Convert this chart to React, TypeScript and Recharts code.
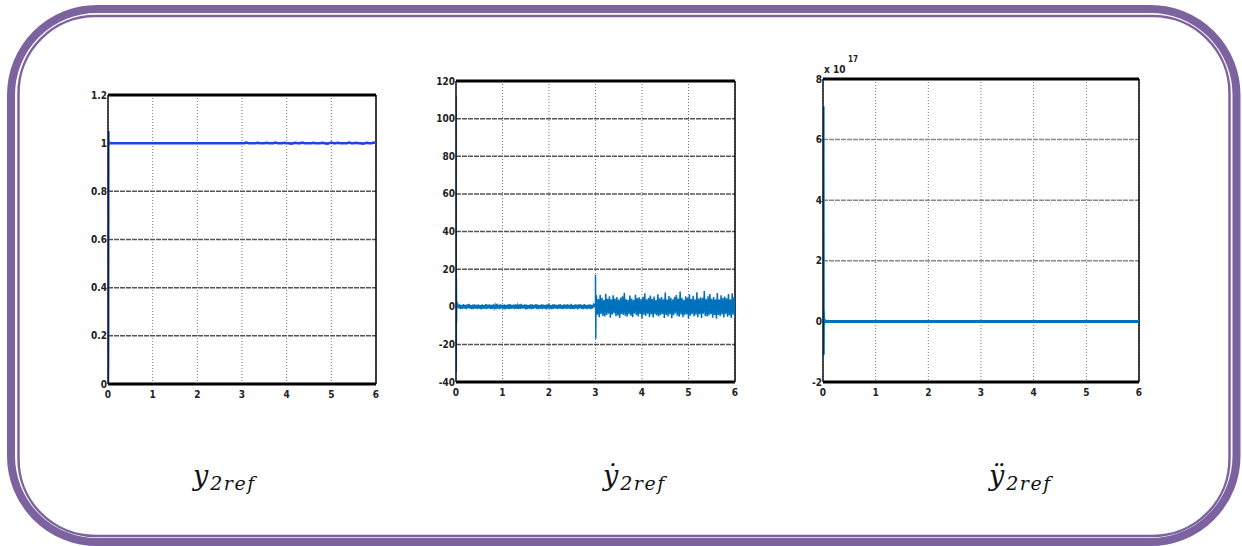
import React from 'react';
import { LineChart, Line, XAxis, YAxis, CartesianGrid, ReferenceLine } from 'recharts';

// ---- time axis (s) ----
const timeTicks = [0, 1, 2, 3, 4, 5, 6];

// ---- y2ref ----
const y2Ticks = [0, 0.2, 0.4, 0.6, 0.8, 1, 1.2];
const y2StartT = [0, 0.004, 0.008, 0.012, 0.02, 0.04, 3.0];
const y2StartV = [0, 0.15, 1.05, 0.99, 1.005, 1.0, 1.0];
const y2NoiseFrom = 3.05;
const y2NoiseDt = 0.05;
const y2Noise = [
    1.0, 1.003, 1.0, 1.0, 1.0, 1.0, 1.002, 1.0, 1.0, 1.0,
    1.002, 1.0, 1.0, 1.0, 1.003, 1.0, 1.0, 1.0, 1.002, 1.0,
    1.0, 0.998, 1.0, 1.002, 1.0, 1.0, 1.003, 1.0, 1.0, 1.0,
    1.0, 1.002, 1.0, 1.0, 1.0, 1.002, 1.0, 0.998, 1.0, 1.003,
    1.0, 1.0, 1.002, 1.0, 1.0, 1.0, 1.0, 1.003, 1.0, 1.0,
    1.002, 1.0, 1.0, 0.998, 1.0, 1.002, 1.0, 1.0, 1.003, 1.0,
];

// ---- dy2ref ----
const dyTicks = [-40, -20, 0, 20, 40, 60, 80, 100, 120];
const dyStartT = [0, 0.003, 0.006, 0.009, 0.012, 0.016, 0.02];
const dyStartV = [0, 112, -35, 15, -8, 3, 0];
const dyQuietFrom = 0.04;
const dyQuietDt = 0.02;
const dyQuiet = [
    1.1, -0.9, 1.3, -1.2, 0.8, -1.1, 1.4, -0.9, 1.0, -1.3,
    1.2, -0.8, 1.5, -1.0, 0.9, -1.2, 1.1, -1.3, 1.3, -0.9,
    1.0, -1.2, 1.2, -1.0, 0.8, -1.4, 1.3, -1.1, 0.9, -1.0,
    1.4, -1.2, 1.1, -0.9, 1.2, -1.3, 1.0, -1.1, 1.3, -0.8,
    0.9, -1.2, 1.5, -1.0, 1.1, -1.3, 1.2, -0.9, 1.0, -1.1,
    1.3, -1.4, 0.9, -1.0, 1.2, -1.2, 1.4, -1.1, 1.0, -0.9,
    1.1, -1.3, 1.2, -1.0, 0.8, -1.2, 1.3, -1.1, 1.5, -1.0,
    1.0, -0.9, 1.2, -1.4, 1.1, -1.2, 0.9, -1.0, 1.3, -1.3,
    1.2, -1.1, 1.0, -0.8, 1.4, -1.2, 1.1, -1.3, 0.9, -1.0,
    1.3, -1.2, 1.1, -0.9, 1.0, -1.4, 1.2, -1.0, 1.5, -1.1,
    0.9, -1.3, 1.2, -1.1, 1.3, -0.9, 1.0, -1.2, 1.1, -1.0,
    1.4, -1.1, 0.8, -1.3, 1.2, -1.0, 1.1, -1.2, 1.3, -0.9,
    1.0, -1.2, 1.5, -1.1, 0.9, -1.3, 1.2, -1.0, 1.1, -1.4,
    1.2, -0.9, 1.3, -1.1, 1.0, -1.2, 1.4, -1.0, 0.9, -1.3,
    1.1, -1.0, 1.2, -1.3, 1.0, -0.9, 1.3,
];
const dyKickT = [2.999, 3.0, 3.006, 3.012];
const dyKickV = [0, 17, -17, 6];
const dyNoisyFrom = 3.02;
const dyNoisyDt = 0.02;
const dyNoisy = [
    5.8, -4.2, 4.1, -5.6, 6.3, -3.8, 4.7, -4.9, 3.6, -5.2,
    6.9, -4.4, 4.2, -3.7, 5.5, -5.8, 3.9, -4.1, 6.1, -3.5,
    4.4, -5.0, 5.2, -4.6, 3.8, -6.0, 4.9, -3.9, 5.6, -4.3,
    7.4, -4.8, 4.0, -5.3, 3.7, -4.0, 5.9, -4.7, 4.3, -5.5,
    3.5, -3.6, 6.4, -4.5, 4.6, -5.1, 5.0, -3.8, 4.1, -6.2,
    5.3, -4.2, 7.1, -4.9, 3.9, -3.7, 4.8, -5.4, 6.0, -4.1,
    4.2, -5.7, 5.4, -3.9, 3.6, -4.6, 6.6, -5.0, 4.5, -4.4,
    5.1, -3.8, 4.0, -5.9, 7.6, -4.3, 3.8, -5.2, 5.7, -4.0,
    4.7, -6.1, 3.9, -4.5, 5.3, -3.6, 6.2, -4.8, 4.4, -5.3,
    8.1, -4.1, 4.6, -5.6, 3.7, -4.4, 5.5, -3.9, 4.9, -6.3,
    6.5, -4.7, 4.1, -3.8, 5.8, -5.1, 3.8, -4.2, 7.7, -5.5,
    4.3, -4.0, 5.0, -6.0, 4.6, -3.7, 8.3, -4.9, 3.9, -5.2,
    5.6, -4.6, 6.8, -3.9, 4.2, -5.8, 5.1, -4.3, 4.0, -6.4,
    7.3, -4.4, 3.8, -5.0, 6.1, -4.1, 4.7, -5.7, 5.4, -3.8,
    4.5, -5.3, 6.7, -4.6, 3.9, -5.9, 7.2, -4.2, 5.0, -6.1,
];

// ---- ddy2ref (x 1e17) ----
const ddyTicks = [-2, 0, 2, 4, 6, 8];
const ddyT = [0, 0.002, 0.005, 0.008, 0.012, 0.02, 0.05, 6];
const ddyV = [0, 7.1, -1.1, 0.35, -0.1, 0.05, 0, 0];

type Pt = { t: number; v: number };

const zipPts = (ts: number[], vs: number[]): Pt[] => ts.map((t, i) => ({ t, v: vs[i] }));
const sampled = (from: number, dt: number, vs: number[]): Pt[] =>
    vs.map((v, i) => ({ t: +(from + i * dt).toFixed(4), v }));

const y2Data = [...zipPts(y2StartT, y2StartV), ...sampled(y2NoiseFrom, y2NoiseDt, y2Noise)];
const dyData = [
    ...zipPts(dyStartT, dyStartV),
    ...sampled(dyQuietFrom, dyQuietDt, dyQuiet),
    ...zipPts(dyKickT, dyKickV),
    ...sampled(dyNoisyFrom, dyNoisyDt, dyNoisy),
];
const ddyData = zipPts(ddyT, ddyV);

const tickFont = {
    fontFamily: '"Liberation Sans Narrow", "DejaVu Sans Condensed", "Arial Narrow", sans-serif',
    fontSize: 10,
    fontWeight: 700,
    fill: '#222',
};

const Y_AXIS_W = 30;
const TOP_PAD = 8;
const RIGHT_PAD = 8;
const X_AXIS_H = 22;

interface PanelProps {
    data: Pt[];
    yTicks: number[];
    left: number;
    top: number;
    plotW: number;
    plotH: number;
    color: string;
    lineWidth: number;
    hGrid: string;
}

const Panel: React.FC<PanelProps> = ({ data, yTicks, left, top, plotW, plotH, color, lineWidth, hGrid }) => {
    const yMin = yTicks[0];
    const yMax = yTicks[yTicks.length - 1];
    return (
        <div style={{ position: 'absolute', left: left - Y_AXIS_W, top: top - TOP_PAD }}>
            <LineChart
                width={Y_AXIS_W + plotW + RIGHT_PAD}
                height={TOP_PAD + plotH + X_AXIS_H}
                data={data}
                margin={{ top: TOP_PAD, right: RIGHT_PAD, bottom: 0, left: 0 }}
            >
                <CartesianGrid horizontal={false} stroke="#777" strokeDasharray="1 2" />
                <CartesianGrid vertical={false} stroke={hGrid} strokeWidth={1.5} strokeDasharray="5 1" />
                <XAxis
                    dataKey="t"
                    type="number"
                    domain={[0, 6]}
                    ticks={timeTicks}
                    height={X_AXIS_H}
                    tickLine={false}
                    tickSize={0}
                    tickMargin={7}
                    axisLine={{ stroke: '#000', strokeWidth: 3 }}
                    tick={tickFont}
                    allowDataOverflow
                />
                <YAxis
                    type="number"
                    domain={[yMin, yMax]}
                    ticks={yTicks}
                    width={Y_AXIS_W}
                    tickLine={false}
                    tickSize={0}
                    tickMargin={1}
                    axisLine={{ stroke: '#111', strokeWidth: 1.5 }}
                    tick={tickFont}
                    allowDataOverflow
                />
                <ReferenceLine y={yMax} stroke="#000" strokeWidth={3} />
                <ReferenceLine x={6} stroke="#000" strokeWidth={1.5} />
                <Line
                    dataKey="v"
                    type="linear"
                    stroke={color}
                    strokeWidth={lineWidth}
                    dot={false}
                    isAnimationActive={false}
                />
            </LineChart>
        </div>
    );
};

const labelFont = '"DejaVu Serif", "Liberation Serif", serif';

const Caption: React.FC<{ left: number; base: string }> = ({ left, base }) => (
    <div
        style={{
            position: 'absolute',
            left,
            top: 462,
            fontFamily: labelFont,
            fontStyle: 'italic',
            color: '#111',
            whiteSpace: 'nowrap',
            lineHeight: 1,
        }}
    >
        <span style={{ fontSize: 27 }}>{base}</span>
        <span style={{ fontSize: 19, letterSpacing: 1.5, position: 'relative', top: 5, marginLeft: 2 }}>2ref</span>
    </div>
);

export default function App() {
    return (
        <div
            style={{
                position: 'absolute',
                left: 0,
                top: 0,
                width: 1242,
                height: 546,
                background: '#fff',
                overflow: 'hidden',
            }}
        >
            <svg width={1242} height={546} style={{ position: 'absolute', left: 0, top: 0 }}>
                <rect x={11} y={9} width={1225.5} height={533} rx={86} ry={86} fill="none" stroke="#7d62a0" strokeWidth={8} />
                <rect x={18.5} y={16} width={1211} height={520} rx={77} ry={77} fill="none" stroke="#7d62a0" strokeWidth={2.5} />
            </svg>

            <Panel data={y2Data} yTicks={y2Ticks} left={108} top={95} plotW={268} plotH={289} color="#1d44e6" lineWidth={2.5} hGrid="#555" />
            <Panel data={dyData} yTicks={dyTicks} left={456} top={81} plotW={279} plotH={301} color="#0072bd" lineWidth={1.5} hGrid="#555" />
            <Panel data={ddyData} yTicks={ddyTicks} left={823} top={79} plotW={316} plotH={303} color="#0072bd" lineWidth={3} hGrid="#888" />

            {/* exponent of the third panel's y axis */}
            <div style={{ position: 'absolute', left: 824, top: 64, fontFamily: tickFont.fontFamily, fontWeight: 700, fontSize: 10, color: '#222' }}>
                x 10
            </div>
            <div style={{ position: 'absolute', left: 848, top: 55, fontFamily: tickFont.fontFamily, fontWeight: 700, fontSize: 8, color: '#222' }}>
                17
            </div>

            <Caption left={193} base="y" />
            <Caption left={603} base={'\u1E8F'} />
            <Caption left={989} base={'\u00FF'} />
        </div>
    );
}
